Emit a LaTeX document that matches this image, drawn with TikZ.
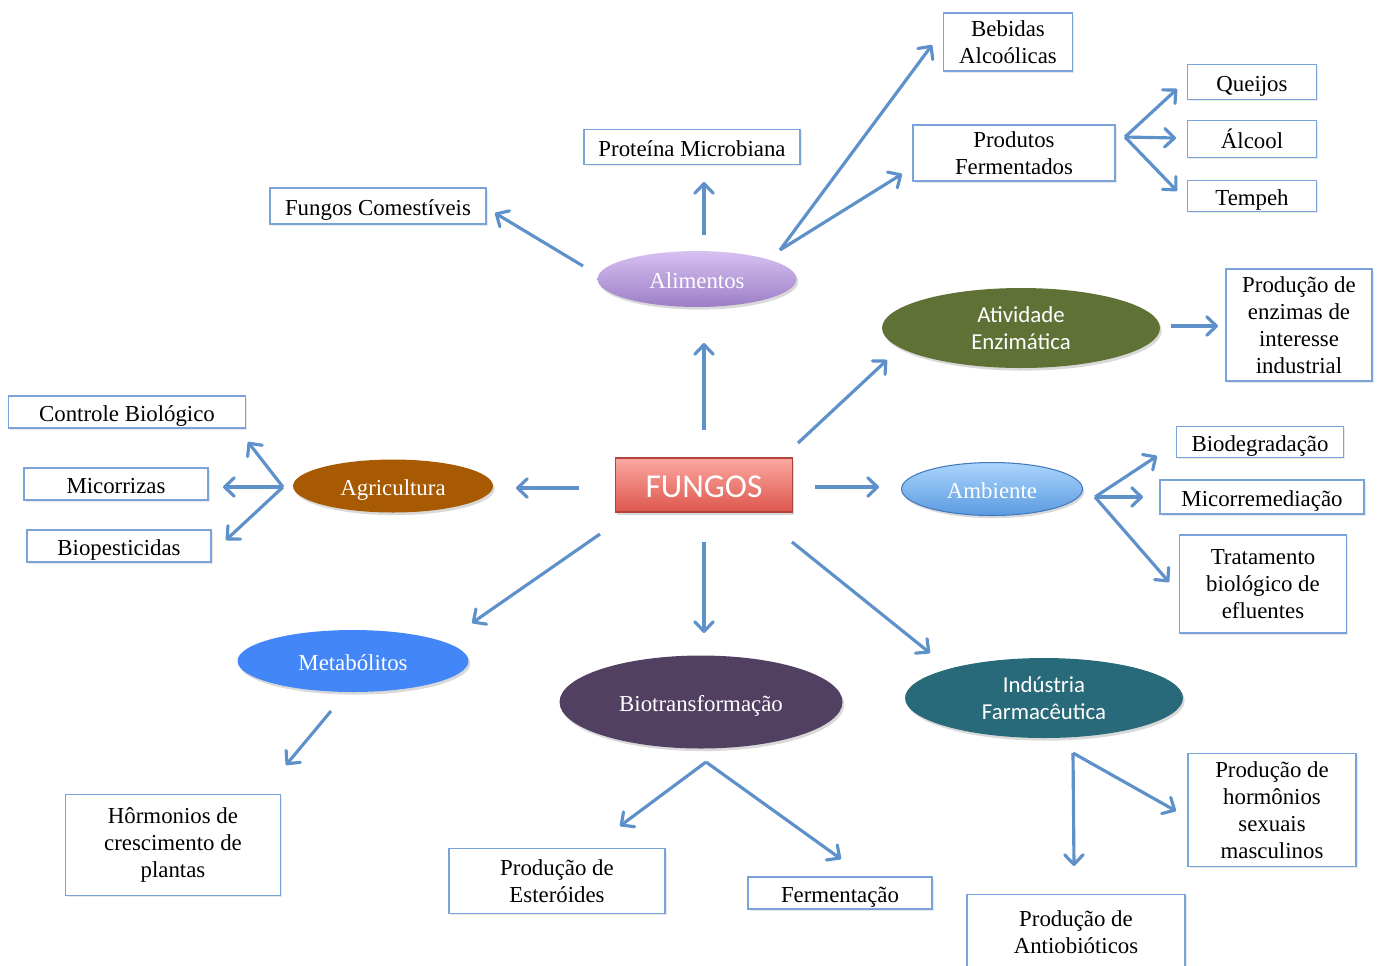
\documentclass[tikz,border=0pt]{standalone}
\usepackage{fontspec}
\setmainfont{Liberation Serif}
\newfontfamily\calibrifont{Carlito}
\usetikzlibrary{arrows.meta,shapes.geometric,shadows}

\definecolor{boxline}{RGB}{122,163,218}
\definecolor{arrowblue}{RGB}{94,144,202}
\definecolor{alimtop}{RGB}{214,193,240}
\definecolor{alimbot}{RGB}{156,126,198}
\definecolor{enzgreen}{RGB}{96,113,53}
\definecolor{agribrown}{RGB}{168,90,2}
\definecolor{ambtop}{RGB}{172,213,252}
\definecolor{ambbot}{RGB}{90,154,224}
\definecolor{ambline}{RGB}{68,122,188}
\definecolor{metablue}{RGB}{67,134,247}
\definecolor{biopurple}{RGB}{82,64,98}
\definecolor{farmateal}{RGB}{40,106,121}
\definecolor{fungtop}{RGB}{251,168,162}
\definecolor{fungbot}{RGB}{221,86,76}

\tikzset{
  txt/.style={font=\fontsize{13}{15.4}\selectfont, align=center},
  sanstxt/.style={font=\calibrifont\fontsize{13}{15.4}\selectfont, align=center},
  oneline/.style={text height=10.5pt, text depth=0pt},
  infobox/.style={txt, draw=boxline, line width=1.1pt, fill=white, inner sep=0pt,
    drop shadow={opacity=0.18, shadow xshift=1pt, shadow yshift=-1pt}},
  bubble/.style={ellipse, inner sep=0pt, text=white,
    drop shadow={opacity=0.3, shadow xshift=1pt, shadow yshift=-1.5pt}},
  arr/.style={draw=arrowblue, line width=1.8pt, -{Straight Barb[length=5.5pt,width=10.5pt,round]}},
}

\begin{document}
\begin{tikzpicture}[x=0.02cm, y=-0.02cm]
  \useasboundingbox (0,0) rectangle (1379,965);

  % centro
  \node[draw=fungbot!80!black, line width=0.6pt, top color=fungtop, bottom color=fungbot,
    minimum width=3.54cm, minimum height=1.08cm, text=white, inner sep=0pt,
    font=\calibrifont\fontsize{19}{22}\selectfont, text height=14pt, text depth=0pt,
    drop shadow={opacity=0.3, shadow xshift=1pt, shadow yshift=-1.5pt}] (fungos) at (704,485) {FUNGOS};

  % areas
  \node[bubble, txt, oneline, top color=alimtop, bottom color=alimbot, minimum width=3.98cm, minimum height=1.12cm] (alim) at (697,279) {Alimentos};
  \node[bubble, sanstxt, fill=enzgreen, minimum width=5.56cm, minimum height=1.6cm] (enz) at (1021,328) {Atividade\\Enzimática};
  \node[bubble, txt, oneline, fill=agribrown, minimum width=4cm, minimum height=1.06cm] (agri) at (393,486) {Agricultura};
  \node[bubble, txt, oneline, draw=ambline, line width=0.6pt, top color=ambtop, bottom color=ambbot, minimum width=3.62cm, minimum height=1.06cm] (amb) at (992,489) {Ambiente};
  \node[bubble, txt, oneline, fill=metablue, minimum width=4.62cm, minimum height=1.24cm] (meta) at (353,661) {Metabólitos};
  \node[bubble, txt, oneline, fill=biopurple, minimum width=5.66cm, minimum height=1.86cm] (biot) at (701,702) {Biotransformação};
  \node[bubble, sanstxt, fill=farmateal, minimum width=5.56cm, minimum height=1.6cm] (farma) at (1044,698) {Indústria\\Farmacêutica};

  % caixas
  \node[infobox, minimum width=2.58cm, minimum height=1.16cm] (bebidas) at (1008,42) {Bebidas\\Alcoólicas};
  \node[infobox, minimum width=4.04cm, minimum height=1.12cm] (produtos) at (1014,153) {Produtos\\Fermentados};
  \node[infobox, oneline, minimum width=2.58cm, minimum height=0.7cm] (queijos) at (1252,82) {Queijos};
  \node[infobox, oneline, minimum width=2.58cm, minimum height=0.74cm] (alcool) at (1252,139) {Álcool};
  \node[infobox, oneline, minimum width=2.58cm, minimum height=0.62cm] (tempeh) at (1252,196) {Tempeh};
  \node[infobox, oneline, minimum width=4.32cm, minimum height=0.7cm] (proteina) at (692,147) {Proteína Microbiana};
  \node[infobox, oneline, minimum width=4.32cm, minimum height=0.72cm] (comest) at (378,206) {Fungos Comestíveis};
  \node[infobox, minimum width=2.92cm, minimum height=2.24cm] (enzimas) at (1299,325) {Produção de\\enzimas de\\interesse\\industrial};
  \node[infobox, oneline, minimum width=3.34cm, minimum height=0.62cm] (biodeg) at (1260,442) {Biodegradação};
  \node[infobox, oneline, minimum width=4.08cm, minimum height=0.68cm] (micorrem) at (1262,497) {Micorremediação};
  \node[infobox, minimum width=3.34cm, minimum height=1.96cm] (tratam) at (1263,584) {Tratamento\\biológico de\\efluentes};
  \node[infobox, oneline, minimum width=4.74cm, minimum height=0.64cm] (controle) at (127,412) {Controle Biológico};
  \node[infobox, oneline, minimum width=3.68cm, minimum height=0.64cm] (micorr) at (116,484) {Micorrizas};
  \node[infobox, oneline, minimum width=3.68cm, minimum height=0.64cm] (biopest) at (119,546) {Biopesticidas};
  \node[infobox, minimum width=4.3cm, minimum height=2.02cm] (hormpl) at (173,845) {Hôrmonios de\\crescimento de\\plantas};
  \node[infobox, minimum width=4.32cm, minimum height=1.3cm] (ester) at (557,881) {Produção de\\Esteróides};
  \node[infobox, oneline, minimum width=3.68cm, minimum height=0.64cm] (ferment) at (840,893) {Fermentação};
  \node[infobox, minimum width=4.36cm, minimum height=1.5cm] (antibio) at (1076,932) {Produção de\\Antiobióticos};
  \node[infobox, minimum width=3.36cm, minimum height=2.26cm] (hormsex) at (1272,810) {Produção de\\hormônios\\sexuais\\masculinos};

  % pontos das setas
  \coordinate (fungosN) at (704,430);   \coordinate (alimS) at (704,343);
  \coordinate (alimN) at (704,235);     \coordinate (proteinaS) at (704,182);
  \coordinate (alimW) at (583,266);     \coordinate (comestE) at (495,213);
  \coordinate (alimfork) at (780,250);
  \coordinate (bebidasW) at (932,45);   \coordinate (produtosW) at (902,174);
  \coordinate (prodfork) at (1125,137);
  \coordinate (queijosW) at (1177,89);  \coordinate (alcoolW) at (1176,138);
  \coordinate (tempehW) at (1177,191);
  \coordinate (fungosNE) at (798,443);  \coordinate (enzSW) at (887,360);
  \coordinate (enzE) at (1171,326);     \coordinate (enzimasW) at (1218,326);
  \coordinate (fungosE) at (815,487);   \coordinate (ambW) at (879,487);
  \coordinate (ambfork) at (1095,497);
  \coordinate (biodegW) at (1157,456);  \coordinate (micorremW) at (1143,497);
  \coordinate (tratamW) at (1169,582);
  \coordinate (fungosW) at (579,488);   \coordinate (agriE) at (516,488);
  \coordinate (agrifork) at (283,487);
  \coordinate (controleS) at (248,442); \coordinate (micorrE) at (223,487);
  \coordinate (biopestE) at (226,540);
  \coordinate (fungosSW) at (600,534);  \coordinate (metaNE) at (472,623);
  \coordinate (fungosS) at (704,542);   \coordinate (biotN) at (704,633);
  \coordinate (fungosSE) at (792,542);  \coordinate (farmaNW) at (930,653);
  \coordinate (metaS) at (331,711);     \coordinate (hormplN) at (286,765);
  \coordinate (biotfork) at (706,762);
  \coordinate (esterN) at (620,826);    \coordinate (fermentN) at (841,859);
  \coordinate (farmafork) at (1073,753);
  \coordinate (antibioN) at (1074,866); \coordinate (hormsexW) at (1176,811);

  % setas
  \foreach \a/\b in {fungosN/alimS, alimN/proteinaS, alimW/comestE,
      alimfork/bebidasW, alimfork/produtosW,
      prodfork/queijosW, prodfork/alcoolW, prodfork/tempehW,
      fungosNE/enzSW, enzE/enzimasW, fungosE/ambW,
      ambfork/biodegW, ambfork/micorremW, ambfork/tratamW,
      fungosW/agriE, agrifork/controleS, agrifork/micorrE, agrifork/biopestE,
      fungosSW/metaNE, fungosS/biotN, fungosSE/farmaNW, metaS/hormplN,
      biotfork/esterN, biotfork/fermentN, farmafork/antibioN, farmafork/hormsexW}
    \draw[arr] (\a) -- (\b);
\end{tikzpicture}
\end{document}
